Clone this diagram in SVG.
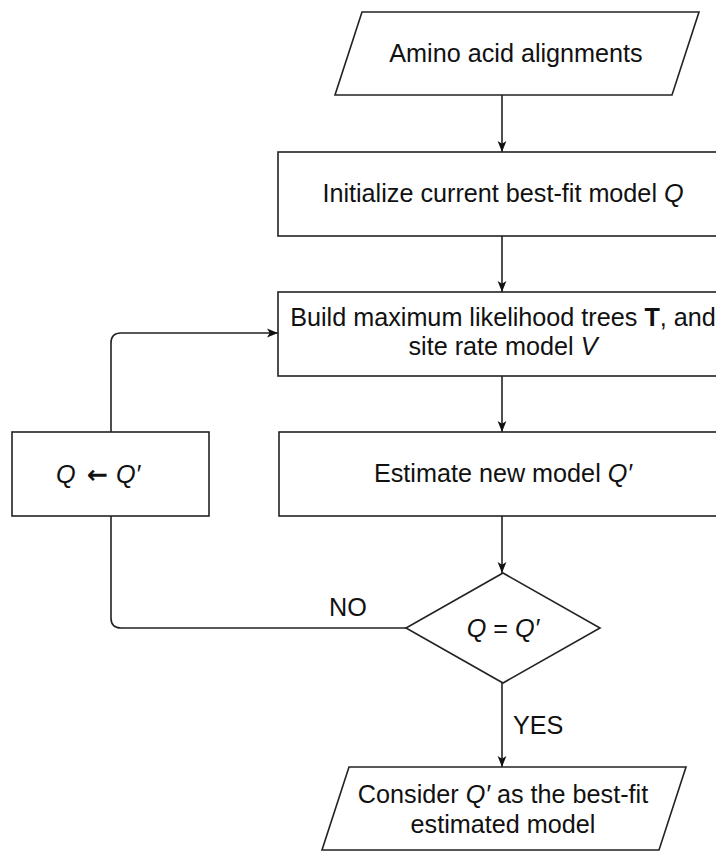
<svg xmlns="http://www.w3.org/2000/svg" width="716" height="851" viewBox="0 0 716 851">
  <style>
    .shape { fill: #ffffff; stroke: #222222; stroke-width: 1.6; }
    .edge { fill: none; stroke: #222222; stroke-width: 1.6; }
    .label { font-family: "Liberation Sans", Arial, sans-serif; font-size: 25.2px; fill: #111111; }
    .it { font-style: italic; }
    .b { font-weight: bold; }
    .sym { font-family: "DejaVu Sans", sans-serif; font-weight: bold; }
  </style>
  <defs>
    <marker id="arrow" viewBox="0 0 10 10" refX="10" refY="5" markerWidth="11" markerHeight="11" markerUnits="userSpaceOnUse" orient="auto">
      <path d="M0,1 L10,5 L0,9 L2.5,5 Z" fill="#111111"/>
    </marker>
  </defs>
  <rect width="716" height="851" fill="#ffffff"/>

  <!-- connectors -->
  <g id="connectors">
    <line class="edge" x1="502" y1="95" x2="502" y2="152" marker-end="url(#arrow)"/>
    <line class="edge" x1="502" y1="236" x2="502" y2="292" marker-end="url(#arrow)"/>
    <line class="edge" x1="502" y1="376" x2="502" y2="432" marker-end="url(#arrow)"/>
    <line class="edge" x1="502" y1="516" x2="502" y2="573" marker-end="url(#arrow)"/>
    <line class="edge" x1="502" y1="683" x2="502" y2="767" marker-end="url(#arrow)"/>
    <!-- NO branch: diamond back to the update box -->
    <path class="edge" d="M406,628 L121,628 Q111,628 111,618 L111,516"/>
    <!-- loop back into the tree-building step -->
    <path class="edge" d="M111,432 L111,343 Q111,333 121,333 L278,333" marker-end="url(#arrow)"/>
    <text class="label" x="348" y="616" text-anchor="middle">NO</text>
    <text class="label" x="513" y="734">YES</text>
  </g>

  <g id="input">
    <polygon class="shape" points="362,12 699,12 672,95 335,95"/>
    <text class="label" x="516" y="62" text-anchor="middle">Amino acid alignments</text>
  </g>

  <g id="init">
    <rect class="shape" x="278" y="152" width="450" height="84"/>
    <text class="label" x="503" y="202" text-anchor="middle">Initialize current best-fit model <tspan class="it">Q</tspan></text>
  </g>

  <g id="build">
    <rect class="shape" x="278" y="292" width="450" height="84"/>
    <text class="label" x="503" y="326" text-anchor="middle">Build maximum likelihood trees <tspan class="b">T</tspan>, and</text>
    <text class="label" x="503" y="355" text-anchor="middle">site rate model <tspan class="it">V</tspan></text>
  </g>

  <g id="estimate">
    <rect class="shape" x="279" y="432" width="449" height="84"/>
    <text class="label" x="503" y="482" text-anchor="middle">Estimate new model <tspan class="it">Q′</tspan></text>
  </g>

  <g id="update">
    <rect class="shape" x="12" y="432" width="197" height="84"/>
    <text class="label" y="483"><tspan class="it" x="56">Q</tspan><tspan class="sym" x="87">←</tspan><tspan class="it" x="116">Q′</tspan></text>
  </g>

  <g id="check">
    <polygon class="shape" points="503,573 600,628 503,683 406,628"/>
    <text class="label" x="503" y="637" text-anchor="middle"><tspan class="it">Q</tspan> = <tspan class="it">Q′</tspan></text>
  </g>

  <g id="output">
    <polygon class="shape" points="349,767 686,767 659,850 322,850"/>
    <text class="label" x="503" y="803" text-anchor="middle">Consider <tspan class="it">Q′</tspan> as the best-fit</text>
    <text class="label" x="503" y="833" text-anchor="middle">estimated model</text>
  </g>
</svg>
